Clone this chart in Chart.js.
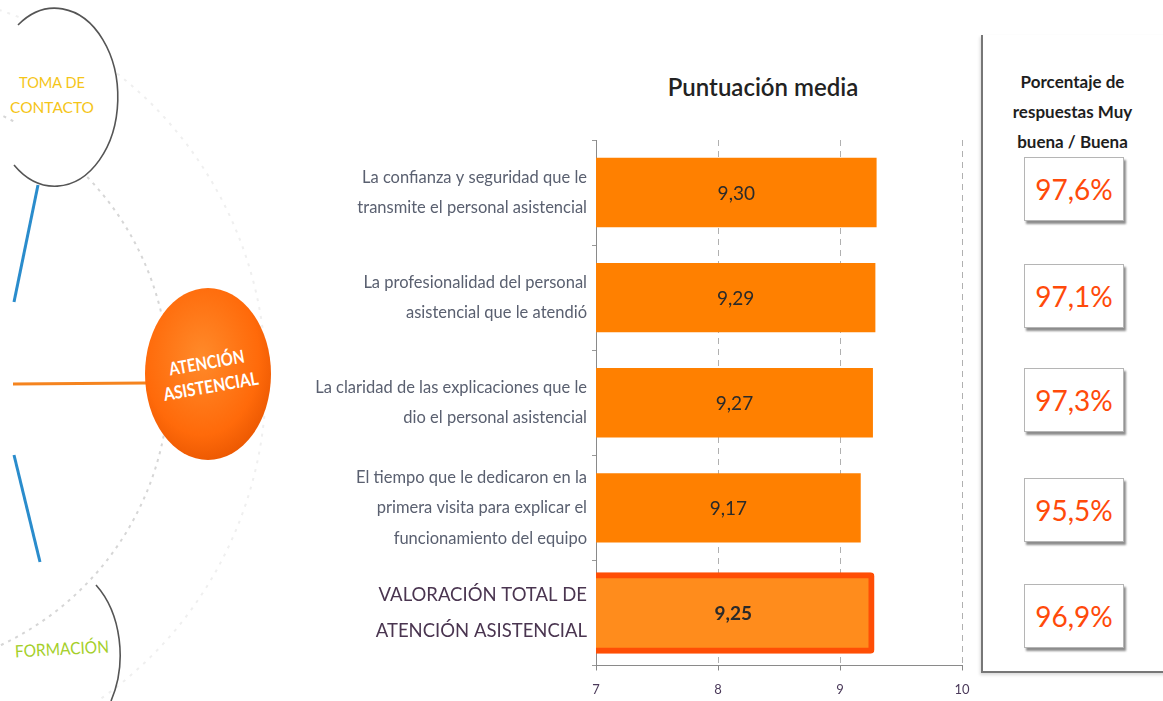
<!DOCTYPE html>
<html>
<head>
<meta charset="utf-8">
<script src="https://cdn.jsdelivr.net/npm/chart.js@4"></script>
<style>
  html, body { margin: 0; padding: 0; background: #fff; }
  #page { position: relative; width: 1163px; height: 701px; overflow: hidden; background: #fff; }
  #deco { position: absolute; left: 0; top: 0; }
  #chart-wrap { position: absolute; left: 290px; top: 0; width: 685px; height: 701px; }
  #titulo { position: absolute; left: 640px; width: 246px; top: 72px; text-align: center;
            font: 600 24px 'Lato', sans-serif; color: #222; }
  #panel { position: absolute; left: 981px; top: 35px; width: 190px; height: 636px;
           border-left: 2px solid #777; border-bottom: 2px solid #777;
           box-shadow: -1px 2px 3px rgba(0,0,0,0.15); }
  #panel-head { position: absolute; left: 985px; width: 175px; top: 67px; text-align: center;
                font: bold 17px 'Lato', sans-serif; line-height: 30px; color: #1e1e1e; }
  .caja { position: absolute; left: 1024px; width: 100px; height: 64px; box-sizing: border-box;
          border: 1px solid #b5b5b5; background: #fff; box-shadow: 2px 3px 2px rgba(0,0,0,0.45);
          text-align: center; font: 28px 'Lato', sans-serif; line-height: 62px;
          color: #ff4a0a; }
</style>
</head>
<body>
<div id="page">
  <svg id="deco" width="300" height="701" xmlns="http://www.w3.org/2000/svg">
    <defs>
      <radialGradient id="naranja" cx="45%" cy="40%" r="65%">
        <stop offset="0%" stop-color="#ff8a2a"/>
        <stop offset="70%" stop-color="#ff6a0a"/>
        <stop offset="100%" stop-color="#e85500"/>
      </radialGradient>
    </defs>
    <!-- arcos punteados -->
    <circle cx="-124" cy="380" r="390" fill="none" stroke="#efefef" stroke-width="2" stroke-dasharray="3 6"/>
    <circle cx="-124" cy="380" r="293" fill="none" stroke="#d6d6d6" stroke-width="2" stroke-dasharray="3 5"/>
    <!-- toma de contacto -->
    <path d="M 18 25 A 63 89 0 1 1 14 165" fill="#fff" stroke="#555" stroke-width="1.6"/>
    <g font-family="Lato, sans-serif" font-size="15" fill="#f5c518" text-anchor="middle">
      <text x="52" y="88" textLength="66" lengthAdjust="spacingAndGlyphs">TOMA DE</text>
      <text x="52" y="113" textLength="84" lengthAdjust="spacingAndGlyphs">CONTACTO</text>
    </g>
    <!-- conectores -->
    <line x1="38" y1="185" x2="14" y2="302" stroke="#2a8ccc" stroke-width="3"/>
    <line x1="14" y1="455" x2="40" y2="562" stroke="#2a8ccc" stroke-width="3"/>
    <line x1="13" y1="384" x2="146" y2="383" stroke="#f5841f" stroke-width="3"/>
    <!-- atencion asistencial -->
    <ellipse cx="208" cy="374" rx="63" ry="86" fill="url(#naranja)"/>
    <g transform="rotate(-10 208 376)" font-family="Lato, sans-serif" font-weight="bold" font-size="18" fill="#fff" text-anchor="middle">
      <text x="209" y="369" textLength="76" lengthAdjust="spacingAndGlyphs">ATENCIÓN</text>
      <text x="209" y="393" textLength="96" lengthAdjust="spacingAndGlyphs">ASISTENCIAL</text>
    </g>
    <!-- formacion -->
    <path d="M 96 585 A 65 90 0 0 1 111 701" fill="none" stroke="#555" stroke-width="1.6"/>
    <text x="62" y="655" text-anchor="middle" transform="rotate(-3 62 650)" font-family="Lato, sans-serif" font-size="17" fill="#a5cf2a" textLength="94" lengthAdjust="spacingAndGlyphs">FORMACIÓN</text>
  </svg>

  <div id="titulo">Puntuación media</div>
  <div id="chart-wrap"><canvas id="chart-puntuacion" width="685" height="701"></canvas></div>

  <div id="panel"></div>
  <div id="panel-head">Porcentaje de<br>respuestas Muy<br>buena / Buena</div>
  <div id="cajas"></div>
</div>

<script>
const categorias = [
    ['La confianza y seguridad que le', 'transmite el personal asistencial'],
    ['La profesionalidad del personal', 'asistencial que le atendió'],
    ['La claridad de las explicaciones que le', 'dio el personal asistencial'],
    ['El tiempo que le dedicaron en la', 'primera visita para explicar el', 'funcionamiento del equipo'],
    ['VALORACIÓN TOTAL DE', 'ATENCIÓN ASISTENCIAL']
];
const puntuaciones = [9.30, 9.29, 9.27, 9.17, 9.25];
const porcentajes  = ['97,6%', '97,1%', '97,3%', '95,5%', '96,9%'];
const ejeX         = [7, 8, 9, 10];

const cajaTop = [157, 264, 368, 478, 584];
const idxTotal = categorias.length - 1;

// cajas de porcentaje
const cont = document.getElementById('cajas');
cont.innerHTML = porcentajes.map((p, i) =>
    `<div class="caja" style="top:${cajaTop[i]}px">${p}</div>`
).join('');

const valoresPlugin = {
    id: 'valores',
    afterDatasetsDraw(chart) {
        const ctx = chart.ctx;
        const izq = chart.chartArea.left;
        ctx.save();
        ctx.textAlign = 'center';
        ctx.textBaseline = 'middle';
        chart.data.datasets.forEach((ds, di) => {
            chart.getDatasetMeta(di).data.forEach((bar, i) => {
                if (ds.data[i] == null) return;
                const x = (bar.x + Math.max(bar.base, izq)) / 2;
                ctx.fillStyle = '#2a2a2a';
                ctx.font = (i === idxTotal ? 'bold ' : '') + '19px Lato, sans-serif';
                ctx.fillText(ds.data[i].toFixed(2).replace('.', ','), x, bar.y + 1);
            });
        });
        ctx.restore();
    }
};

const chart = new Chart(document.getElementById('chart-puntuacion'), {
    type: 'bar',
    data: {
        labels: categorias,
        datasets: [{
            data: puntuaciones.map((v, i) => i === idxTotal ? null : v),
            backgroundColor: '#ff8000',
            borderWidth: 0,
            barPercentage: 0.66,
            categoryPercentage: 1
        }, {
            data: puntuaciones.map((v, i) => i === idxTotal ? v : null),
            backgroundColor: '#ff8c1c',
            borderColor: '#ff4e05',
            borderWidth: 6,
            borderRadius: 4,
            borderSkipped: false,
            inflateAmount: 4,
            barPercentage: 0.70,
            categoryPercentage: 1
        }]
    },
    options: {
        indexAxis: 'y',
        responsive: false,
        animation: false,
        devicePixelRatio: 1,
        layout: { padding: { top: 140, right: 13, bottom: 0, left: 0 } },
        plugins: { legend: { display: false }, tooltip: { enabled: false }, title: { display: false } },
        datasets: { bar: { grouped: false } },
        scales: {
            x: {
                min: ejeX[0],
                max: ejeX[ejeX.length - 1],
                afterBuildTicks: s => { s.ticks = ejeX.map(v => ({ value: v })); },
                afterFit: s => { s.height = 31; s.paddingLeft = 0; s.paddingRight = 0; },
                grid: {
                    color: c => c.index === 0 ? 'rgba(0,0,0,0)' : '#b0b0b0',
                    tickColor: '#888',
                    tickLength: 5,
                    lineWidth: 1
                },
                border: { display: true, color: '#8a8a8a', width: 1, dash: [6, 5] },
                ticks: {
                    padding: 12,
                    color: '#4b3a5a',
                    font: { family: 'Lato', size: 13 }
                }
            },
            y: {
                afterFit: s => { s.width = 306; },
                grid: { drawOnChartArea: false, drawTicks: true, tickLength: 4, offset: true, color: '#999' },
                border: { display: true, color: '#8a8a8a', width: 1 },
                ticks: {
                    padding: 5,
                    color: c => c.index === idxTotal ? '#4a3550' : '#5a6070',
                    font: c => c.index === idxTotal
                        ? { family: 'Lato', size: 18.5, lineHeight: 1.95 }
                        : { family: 'Lato', size: 16.5, lineHeight: 1.85 }
                }
            }
        }
    },
    plugins: [valoresPlugin]
});
</script>
</body>
</html>
